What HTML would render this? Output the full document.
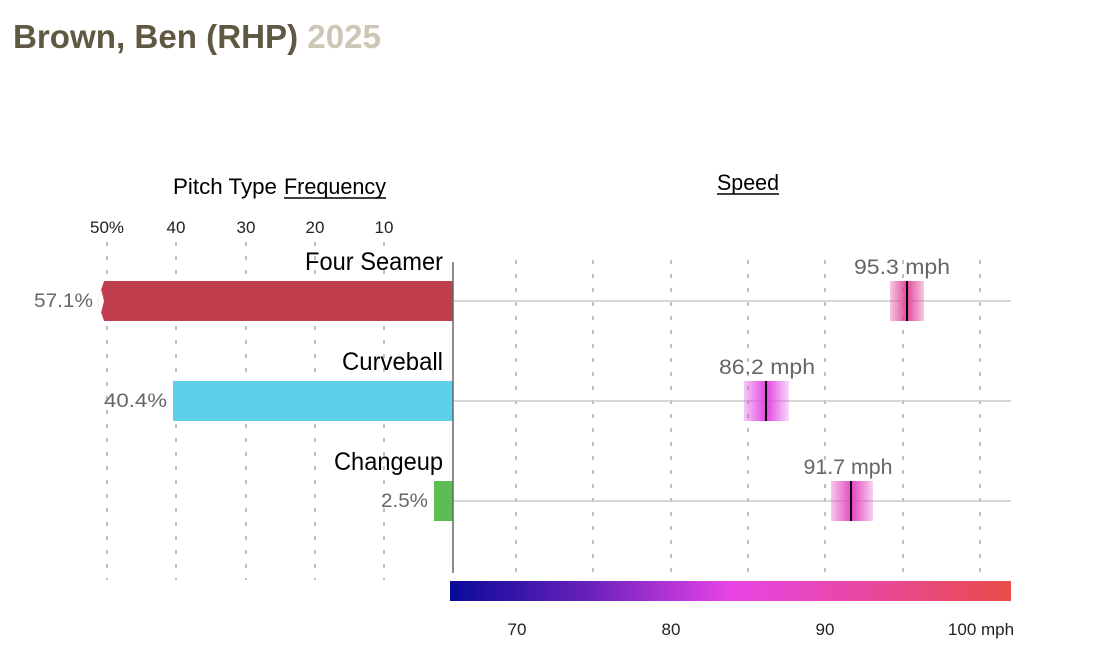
<!DOCTYPE html>
<html><head><meta charset="utf-8"><style>
html,body{margin:0;padding:0;background:#fff;width:1094px;height:662px;overflow:hidden}
svg{display:block}
</style></head><body>
<svg width="1094" height="662" viewBox="0 0 1094 662" xmlns="http://www.w3.org/2000/svg">
<defs>
<linearGradient id="cb" x1="0" x2="1" y1="0" y2="0">
<stop offset="0" stop-color="#0a0a98"/>
<stop offset="0.25" stop-color="#6a22bc"/>
<stop offset="0.5" stop-color="#e844e6"/>
<stop offset="0.75" stop-color="#e8489e"/>
<stop offset="1" stop-color="#e84c46"/>
</linearGradient>
<linearGradient id="m1" x1="0" x2="1"><stop offset="0" stop-color="#e0489a" stop-opacity="0.3"/><stop offset="0.5" stop-color="#e0489a"/><stop offset="1" stop-color="#e0489a" stop-opacity="0.3"/></linearGradient>
<linearGradient id="m2" x1="0" x2="1"><stop offset="0" stop-color="#e244e2" stop-opacity="0.3"/><stop offset="0.5" stop-color="#e244e2"/><stop offset="1" stop-color="#e244e2" stop-opacity="0.2"/></linearGradient>
<linearGradient id="m3" x1="0" x2="1"><stop offset="0" stop-color="#e446c0" stop-opacity="0.3"/><stop offset="0.5" stop-color="#e446c0"/><stop offset="1" stop-color="#e446c0" stop-opacity="0.25"/></linearGradient>
</defs>
<text x="13" y="48" font-family="Liberation Sans,sans-serif" font-weight="bold" font-size="33" fill="#5f5842" textLength="368" lengthAdjust="spacingAndGlyphs">Brown, Ben (RHP) <tspan fill="#cdc6b6">2025</tspan></text>

<g font-family="Liberation Sans,sans-serif" font-size="22" fill="#000">
<text x="173" y="194" textLength="104" lengthAdjust="spacingAndGlyphs">Pitch Type</text>
<text x="284" y="194" textLength="102" lengthAdjust="spacingAndGlyphs">Frequency</text>
<text x="717" y="190" textLength="62" lengthAdjust="spacingAndGlyphs">Speed</text>
</g>
<line x1="284" y1="198" x2="386" y2="198" stroke="#000" stroke-width="1.5"/>
<line x1="717" y1="194" x2="779" y2="194" stroke="#000" stroke-width="1.5"/>

<g font-family="Liberation Sans,sans-serif" font-size="17" fill="#222" text-anchor="middle">
<text x="107" y="233">50%</text><text x="176" y="233">40</text><text x="246" y="233">30</text><text x="315" y="233">20</text><text x="384" y="233">10</text>
</g>
<g stroke="#aaa" stroke-width="1.5" stroke-dasharray="4,10">
<line x1="107" y1="242" x2="107" y2="580"/><line x1="176" y1="242" x2="176" y2="580"/><line x1="246" y1="242" x2="246" y2="580"/><line x1="315" y1="242" x2="315" y2="580"/><line x1="384" y1="242" x2="384" y2="580"/>
<line x1="516" y1="260" x2="516" y2="580"/><line x1="593" y1="260" x2="593" y2="580"/><line x1="671" y1="260" x2="671" y2="580"/><line x1="748" y1="260" x2="748" y2="580"/><line x1="825" y1="260" x2="825" y2="580"/><line x1="903" y1="260" x2="903" y2="580"/><line x1="980" y1="260" x2="980" y2="580"/>
</g>
<g stroke="#ccc" stroke-width="1.5">
<line x1="453" y1="301" x2="1011" y2="301"/><line x1="453" y1="401" x2="1011" y2="401"/><line x1="453" y1="501" x2="1011" y2="501"/>
</g>

<polygon points="104,281 453,281 453,321 104,321 97,301" fill="#c13e4e"/>
<polygon points="99,281 104,281 97,301 104,321 99,321 104,301" fill="#fff"/>
<rect x="173" y="381" width="280" height="40" fill="#5ecfe9"/>
<rect x="434" y="481" width="19" height="40" fill="#5cbd52"/>
<line x1="453" y1="262" x2="453" y2="573" stroke="#666" stroke-width="1.5"/>

<g font-family="Liberation Sans,sans-serif" font-size="25" fill="#000" text-anchor="end">
<text x="443" y="270" textLength="138" lengthAdjust="spacingAndGlyphs">Four Seamer</text>
<text x="443" y="370" textLength="101" lengthAdjust="spacingAndGlyphs">Curveball</text>
<text x="443" y="470" textLength="109" lengthAdjust="spacingAndGlyphs">Changeup</text>
</g>
<g font-family="Liberation Sans,sans-serif" font-size="19" fill="#666" text-anchor="end">
<text x="93" y="307" textLength="59" lengthAdjust="spacingAndGlyphs">57.1%</text>
<text x="167" y="407" textLength="63" lengthAdjust="spacingAndGlyphs">40.4%</text>
<text x="428" y="507" textLength="47" lengthAdjust="spacingAndGlyphs">2.5%</text>
</g>

<rect x="890" y="281" width="34" height="40" fill="url(#m1)"/><line x1="907" y1="281" x2="907" y2="321" stroke="#000" stroke-width="2"/>
<rect x="744" y="381" width="45" height="40" fill="url(#m2)"/><line x1="766" y1="381" x2="766" y2="421" stroke="#000" stroke-width="2"/>
<rect x="831" y="481" width="42" height="40" fill="url(#m3)"/><line x1="851" y1="481" x2="851" y2="521" stroke="#000" stroke-width="2"/>
<g font-family="Liberation Sans,sans-serif" font-size="21" fill="#666" text-anchor="middle">
<text x="902" y="274" textLength="96" lengthAdjust="spacingAndGlyphs">95.3 mph</text>
<text x="767" y="374" textLength="96" lengthAdjust="spacingAndGlyphs">86.2 mph</text>
<text x="848" y="474" textLength="89" lengthAdjust="spacingAndGlyphs">91.7 mph</text>
</g>

<rect x="450" y="581" width="561" height="20" fill="url(#cb)"/>
<g font-family="Liberation Sans,sans-serif" font-size="17" fill="#222" text-anchor="middle">
<text x="517" y="635">70</text><text x="671" y="635">80</text><text x="825" y="635">90</text><text x="981" y="635">100 mph</text>
</g>
</svg>
</body></html>
